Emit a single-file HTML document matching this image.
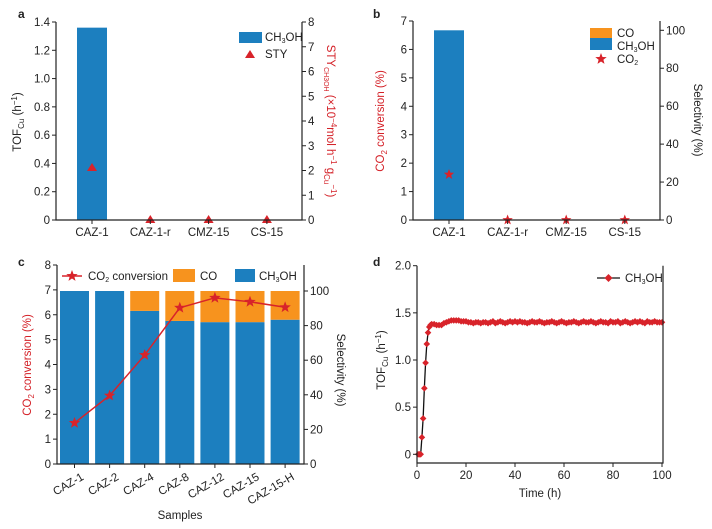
<!DOCTYPE html>
<html><head><meta charset="utf-8">
<style>
html,body{margin:0;padding:0;background:#fff;}
svg{display:block;font-family:"Liberation Sans",Arial,sans-serif;}
text{font-size:11.5px;fill:#222;}
.red{fill:#d42027;}
.lbl{font-weight:bold;font-size:12px;}
</style></head>
<body>
<svg id="fig" width="712" height="529" viewBox="0 0 712 529"></svg>
<script>
// ---- Panel a data ----
const catsA = ["CAZ-1","CAZ-1-r","CMZ-15","CS-15"];
const tofA = [1.36,0,0,0];
const styA = [2.1,0,0,0];
const ticksAL = [0,0.2,0.4,0.6,0.8,1.0,1.2,1.4];
const ticksAR = [0,1,2,3,4,5,6,7,8];
// ---- Panel b data ----
const catsB = ["CAZ-1","CAZ-1-r","CMZ-15","CS-15"];
const selMeB = [100,0,0,0];
const selCoB = [0,0,0,0];
const convB = [1.6,0,0,0];
const ticksBL = [0,1,2,3,4,5,6,7];
const ticksBR = [0,20,40,60,80,100];
// ---- Panel c data ----
const catsC = ["CAZ-1","CAZ-2","CAZ-4","CAZ-8","CAZ-12","CAZ-15","CAZ-15-H"];
const selMeC = [100,100,88.5,82.7,82,82,83.4];
const convC = [1.65,2.75,4.38,6.28,6.68,6.52,6.3];
const ticksCL = [0,1,2,3,4,5,6,7,8];
const ticksCR = [0,20,40,60,80,100];
// ---- Panel d data ----
const timeD = [0.5,1,1.5,2,2.5,3,3.5,4,4.5,5,5.5,6,7,8,9,10,11,12,13,14,15,16,17,18,19,20,21,22,23,24,25,26,27,28,29,30,31,32,33,34,35,36,37,38,39,40,41,42,43,44,45,46,47,48,49,50,51,52,53,54,55,56,57,58,59,60,61,62,63,64,65,66,67,68,69,70,71,72,73,74,75,76,77,78,79,80,81,82,83,84,85,86,87,88,89,90,91,92,93,94,95,96,97,98,99,100];
const tofD = [0,0,0,0.18,0.38,0.7,0.97,1.17,1.29,1.35,1.37,1.38,1.38,1.37,1.37,1.37,1.39,1.4,1.41,1.42,1.42,1.42,1.42,1.41,1.41,1.41,1.4,1.4,1.39,1.4,1.4,1.39,1.4,1.4,1.39,1.4,1.41,1.39,1.4,1.41,1.4,1.39,1.4,1.41,1.4,1.41,1.4,1.41,1.4,1.4,1.39,1.4,1.41,1.4,1.4,1.41,1.4,1.39,1.4,1.4,1.41,1.4,1.39,1.4,1.41,1.4,1.39,1.4,1.4,1.41,1.4,1.39,1.4,1.41,1.4,1.4,1.41,1.4,1.39,1.4,1.41,1.4,1.4,1.39,1.41,1.4,1.4,1.41,1.39,1.4,1.41,1.4,1.39,1.4,1.41,1.4,1.41,1.4,1.39,1.41,1.4,1.4,1.41,1.4,1.4,1.4];
const ticksDX = [0,20,40,60,80,100];
const ticksDY = [0,0.5,1.0,1.5,2.0];

const NS="http://www.w3.org/2000/svg";
const svg=document.getElementById('fig');
const BLUE="#1c7fbf", ORANGE="#f7931e", RED="#d8232a";
function mk(tag,attrs,parent,txt){const e=document.createElementNS(NS,tag);for(const k in attrs)e.setAttribute(k,attrs[k]);if(txt!==undefined)e.textContent=txt;(parent||svg).appendChild(e);return e;}
function starPts(cx,cy,r){let p=[];for(let i=0;i<10;i++){const a=-Math.PI/2+i*Math.PI/5;const rr=i%2?r*0.42:r;p.push((cx+rr*Math.cos(a)).toFixed(1)+","+(cy+rr*Math.sin(a)).toFixed(1));}return p.join(" ");}
function txt(x,y,s,opt,nm){const t=mk('text',Object.assign({x:x,y:y},opt||{}),svg);t.innerHTML=s;return t;}
function yTicks(x,ticks,scale,side,fmt,nm){ticks.forEach(v=>{const y=scale(v);const l=mk('line',{x1:x,x2:side<0?x-4:x+4,y1:y,y2:y,stroke:'#222','stroke-width':1});const t=txt(side<0?x-6:x+6,y+4,fmt(v),{'text-anchor':side<0?'end':'start'},nm+'-tick-label');});}
function box(x0,x1,y0,y1,nm){const g=mk('path',{d:`M${x0},${y0}V${y1}H${x1}V${y0}`,fill:'none',stroke:'#222','stroke-width':1.2});}
const fmt1=v=>v===0?"0":v.toFixed(1), fmt0=v=>String(v);

// ===== Panel a =====
(function(){
 const X0=56,X1=302,Y0=220,Y1=22;
 const yL=v=>Y0-(v/1.4)*(Y0-Y1), yR=v=>Y0-(v/8)*(Y0-Y1), xc=i=>92+i*58.3;
 tofA.forEach((v,i)=>{if(v>0){const r=mk('rect',{x:xc(i)-15,y:yL(v),width:30,height:Y0-yL(v),fill:BLUE});}});
 styA.forEach((v,i)=>{const x=xc(i),y=yR(v);const p=mk('polygon',{points:`${x},${y-5} ${x-5},${y+3} ${x+5},${y+3}`,fill:RED});});
 box(X0,X1,Y1,Y0,'panel-a-axes');
 yTicks(X0,ticksAL,yL,-1,fmt1,'a-left-y');
 yTicks(X1,ticksAR,yR,1,fmt0,'a-right-y');
 catsA.forEach((c,i)=>{const l=mk('line',{x1:xc(i),x2:xc(i),y1:Y0,y2:Y0+4,stroke:'#222'});txt(xc(i),Y0+16,c,{'text-anchor':'middle'},'a-x-tick-label');});
 txt(0,0,'TOF<tspan font-size="8" dy="3">Cu</tspan><tspan dy="-3"> (h</tspan><tspan font-size="8" dy="-4">−1</tspan><tspan dy="4">)</tspan>',{transform:'translate(21,122) rotate(-90)','text-anchor':'middle'},'a-left-y-title');
 txt(0,0,'STY<tspan font-size="7" dy="3">CH3OH</tspan><tspan dy="-3"> (×10</tspan><tspan font-size="8" dy="-4">−4</tspan><tspan dy="4">mol h</tspan><tspan font-size="8" dy="-4">−1</tspan><tspan dy="4"> g</tspan><tspan font-size="8" dy="3">Cu</tspan><tspan font-size="8" dy="-7">−1</tspan><tspan dy="4">)</tspan>',{transform:'translate(327,121) rotate(90)','text-anchor':'middle',class:'red'},'a-right-y-title');
 const lr=mk('rect',{x:239,y:32,width:23,height:11,fill:BLUE});
 txt(265,41,'CH<tspan font-size="7" dy="2">3</tspan><tspan dy="-2">OH</tspan>',{},'legend-ch3oh');
 const lt=mk('polygon',{points:'250,50 245,58 255,58',fill:RED});
 txt(265,58,'STY',{},'legend-sty');
 txt(18,18,'a',{class:'lbl'},'panel-label-a');
})();

// ===== Panel b =====
(function(){
 const X0=413,X1=660,Y0=220,Y1=21;
 const yL=v=>Y0-(v/7)*(Y0-Y1), yR=v=>Y0-(v/100)*(Y0-30.3), xc=i=>449+i*58.6;
 selMeB.forEach((v,i)=>{if(v>0){const r=mk('rect',{x:xc(i)-15,y:yR(v),width:30,height:Y0-yR(v),fill:BLUE});}});
 selCoB.forEach((v,i)=>{if(v>0){const r=mk('rect',{x:xc(i)-15,y:yR(selMeB[i]+v),width:30,height:yR(selMeB[i])-yR(selMeB[i]+v),fill:ORANGE});}});
 convB.forEach((v,i)=>{const p=mk('polygon',{points:starPts(xc(i),yL(v),5.5),fill:RED});});
 box(X0,X1,Y1,Y0,'panel-b-axes');
 yTicks(X0,ticksBL,yL,-1,fmt0,'b-left-y');
 yTicks(X1,ticksBR,yR,1,fmt0,'b-right-y');
 catsB.forEach((c,i)=>{const l=mk('line',{x1:xc(i),x2:xc(i),y1:Y0,y2:Y0+4,stroke:'#222'});txt(xc(i),Y0+16,c,{'text-anchor':'middle'},'b-x-tick-label');});
 txt(0,0,'CO<tspan font-size="8" dy="3">2</tspan><tspan dy="-3"> conversion (%)</tspan>',{transform:'translate(384,121) rotate(-90)','text-anchor':'middle',class:'red'},'b-left-y-title');
 txt(0,0,'Selectivity (%)',{transform:'translate(694,120) rotate(90)','text-anchor':'middle'},'b-right-y-title');
 let r=mk('rect',{x:590,y:28,width:22,height:10,fill:ORANGE});
 r=mk('rect',{x:590,y:38,width:22,height:12,fill:BLUE});
 txt(617,37,'CO',{},'legend-co');
 txt(617,50,'CH<tspan font-size="7" dy="2">3</tspan><tspan dy="-2">OH</tspan>',{},'legend-ch3oh');
 const s=mk('polygon',{points:starPts(601,59,6),fill:RED});
 txt(617,63,'CO<tspan font-size="7" dy="2">2</tspan>',{},'legend-co2');
 txt(373,18,'b',{class:'lbl'},'panel-label-b');
})();

// ===== Panel c =====
(function(){
 const X0=57,X1=304,Y0=464,Y1=265;
 const yL=v=>Y0-(v/8)*(Y0-Y1), yR=v=>Y0-(v/100)*(Y0-291), xc=i=>74.5+i*35.1;
 selMeC.forEach((v,i)=>{
  const r=mk('rect',{x:xc(i)-14.5,y:yR(v),width:29,height:Y0-yR(v),fill:BLUE});
  const co=100-v;if(co>0){const o=mk('rect',{x:xc(i)-14.5,y:yR(100),width:29,height:yR(v)-yR(100),fill:ORANGE});}
 });
 const pl=mk('polyline',{points:convC.map((v,i)=>xc(i)+','+yL(v)).join(' '),fill:'none',stroke:RED,'stroke-width':1.5});
 convC.forEach((v,i)=>{const p=mk('polygon',{points:starPts(xc(i),yL(v),6),fill:RED});});
 box(X0,X1,Y1,Y0,'panel-c-axes');
 yTicks(X0,ticksCL,yL,-1,fmt0,'c-left-y');
 yTicks(X1,ticksCR,yR,1,fmt0,'c-right-y');
 catsC.forEach((c,i)=>{const l=mk('line',{x1:xc(i),x2:xc(i),y1:Y0,y2:Y0+4,stroke:'#222'});txt(0,0,c,{'text-anchor':'end',transform:`translate(${xc(i)+10},${Y0+15}) rotate(-30)`},'c-x-tick-label');});
 txt(180,519,'Samples',{'text-anchor':'middle'},'c-x-title');
 txt(0,0,'CO<tspan font-size="8" dy="3">2</tspan><tspan dy="-3"> conversion (%)</tspan>',{transform:'translate(31,365) rotate(-90)','text-anchor':'middle',class:'red'},'c-left-y-title');
 txt(0,0,'Selectivity (%)',{transform:'translate(337,370) rotate(90)','text-anchor':'middle'},'c-right-y-title');
 let l=mk('line',{x1:62,x2:82,y1:276,y2:276,stroke:RED,'stroke-width':1.5});
 l=mk('polygon',{points:starPts(72,276,6),fill:RED});
 txt(88,280,'CO<tspan font-size="7" dy="2">2</tspan><tspan dy="-2"> conversion</tspan>',{},'legend-conversion');
 let r=mk('rect',{x:173,y:269,width:22,height:13,fill:ORANGE});
 txt(200,280,'CO',{},'legend-co');
 r=mk('rect',{x:235,y:269,width:20,height:13,fill:BLUE});
 txt(259,280,'CH<tspan font-size="7" dy="2">3</tspan><tspan dy="-2">OH</tspan>',{},'legend-ch3oh');
 txt(18,266,'c',{class:'lbl'},'panel-label-c');
})();

// ===== Panel d =====
(function(){
 const X0=417,X1=663,Y0=463,Y1=265.7;
 const xs=v=>X0+(v/100)*(662-X0), ys=v=>454.3-(v/2)*(454.3-Y1);
 const pl=mk('polyline',{points:timeD.map((t,i)=>xs(t)+','+ys(tofD[i])).join(' '),fill:'none',stroke:'#111','stroke-width':1.3});
 timeD.forEach((t,i)=>{const x=xs(t),y=ys(tofD[i]);const p=mk('polygon',{points:`${x},${y-3.3} ${x+3.3},${y} ${x},${y+3.3} ${x-3.3},${y}`,fill:RED});});
 box(X0,X1,Y1,Y0,'panel-d-axes');
 yTicks(X0,ticksDY,ys,-1,fmt1,'d-y');
 ticksDX.forEach(v=>{const l=mk('line',{x1:xs(v),x2:xs(v),y1:Y0,y2:Y0+4,stroke:'#222'});txt(xs(v),Y0+16,String(v),{'text-anchor':'middle'},'d-x-tick-label');});
 txt(540,497,'Time (h)',{'text-anchor':'middle'},'d-x-title');
 txt(0,0,'TOF<tspan font-size="8" dy="3">Cu</tspan><tspan dy="-3"> (h</tspan><tspan font-size="8" dy="-4">−1</tspan><tspan dy="4">)</tspan>',{transform:'translate(385,360) rotate(-90)','text-anchor':'middle'},'d-y-title');
 let l=mk('line',{x1:597,x2:620,y1:278,y2:278,stroke:'#111','stroke-width':1.3});
 l=mk('polygon',{points:'608.5,274 612.5,278 608.5,282 604.5,278',fill:RED});
 txt(625,282,'CH<tspan font-size="7" dy="2">3</tspan><tspan dy="-2">OH</tspan>',{},'legend-ch3oh');
 txt(373,266,'d',{class:'lbl'},'panel-label-d');
})();
</script>
</body></html>
